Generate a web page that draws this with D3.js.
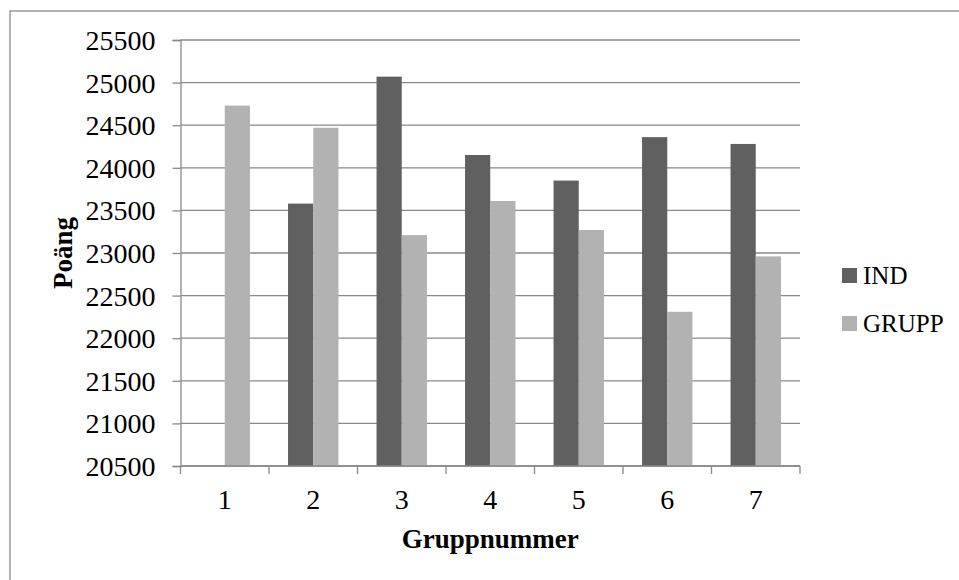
<!DOCTYPE html>
<html>
<head>
<meta charset="utf-8">
<script src="https://cdn.jsdelivr.net/npm/d3@7/dist/d3.min.js"></script>
<style>
  html, body { margin: 0; padding: 0; background: #fff; }
  svg { display: block; }
  text { font-family: "Liberation Serif", "DejaVu Serif", serif; fill: #000; }
</style>
</head>
<body>
<svg id="chart" width="959" height="580"></svg>
<script>
// Group numbers along the x axis
const groups = ["1", "2", "3", "4", "5", "6", "7"];
// Series names
const seriesNames = ["IND", "GRUPP"];
// Points per group (null = no result for that group)
const indValues = [null, 23580, 25070, 24150, 23850, 24360, 24280];
const gruppValues = [24730, 24470, 23210, 23610, 23270, 22310, 22960];
// Y axis ticks
const yTicks = [20500, 21000, 21500, 22000, 22500, 23000, 23500, 24000, 24500, 25000, 25500];

const colors = { IND: "#606060", GRUPP: "#b2b2b2" };
const gridColor = "#898989";

const svg = d3.select("#chart");
const W = 959, H = 580;
const plot = { left: 180.5, right: 800, top: 40, bottom: 466 };

// Outer frame of the chart area
svg.append("rect")
  .attr("x", 10).attr("y", 11)
  .attr("width", W + 20).attr("height", H + 20)
  .attr("fill", "none").attr("stroke", gridColor).attr("stroke-width", 1.3);

const y = d3.scaleLinear().domain([20500, 25500]).range([plot.bottom, plot.top]);
const x0 = d3.scaleBand().domain(groups).range([plot.left, plot.right]).padding(0);
const x1 = d3.scaleBand().domain(seriesNames).range([0, x0.bandwidth()])
  .paddingInner(0).paddingOuter(0.755);

// Horizontal gridlines
svg.append("g")
  .selectAll("line")
  .data(yTicks)
  .join("line")
  .attr("x1", plot.left).attr("x2", plot.right)
  .attr("y1", d => y(d)).attr("y2", d => y(d))
  .attr("stroke", gridColor).attr("stroke-width", 1.3);

// Bars
const rows = groups.map((g, i) => ({ group: g, IND: indValues[i], GRUPP: gruppValues[i] }));
const gGroups = svg.append("g")
  .selectAll("g")
  .data(rows)
  .join("g")
  .attr("transform", d => `translate(${x0(d.group)},0)`);

gGroups.selectAll("rect")
  .data(d => seriesNames.filter(s => d[s] != null).map(s => ({ key: s, value: d[s] })))
  .join("rect")
  .attr("x", d => x1(d.key))
  .attr("width", x1.bandwidth())
  .attr("y", d => y(d.value))
  .attr("height", d => y(20500) - y(d.value))
  .attr("fill", d => colors[d.key]);

// Y axis
const yAxis = d3.axisLeft(y).tickValues(yTicks).tickSize(8).tickPadding(17)
  .tickFormat(d3.format("d"));
const gy = svg.append("g").attr("transform", `translate(${plot.left},0)`).call(yAxis);
gy.select(".domain").attr("stroke", gridColor).attr("stroke-width", 1.3);
gy.selectAll(".tick line").attr("stroke", gridColor).attr("stroke-width", 1.3);
gy.selectAll(".tick text")
  .attr("font-family", "'Liberation Serif', serif")
  .attr("font-size", 28).attr("dy", "0.34em");

// X axis: ticks at the group boundaries, labels in the band centres
const boundaries = groups.map(g => x0(g)).concat([plot.right]);
const gx = svg.append("g");
gx.append("line")
  .attr("x1", plot.left).attr("x2", plot.right)
  .attr("y1", plot.bottom).attr("y2", plot.bottom)
  .attr("stroke", gridColor).attr("stroke-width", 1.3);
gx.selectAll("line.tk")
  .data(boundaries)
  .join("line")
  .attr("class", "tk")
  .attr("x1", d => d).attr("x2", d => d)
  .attr("y1", plot.bottom).attr("y2", plot.bottom + 8)
  .attr("stroke", gridColor).attr("stroke-width", 1.3);
gx.selectAll("text")
  .data(groups)
  .join("text")
  .attr("x", d => x0(d) + x0.bandwidth() / 2)
  .attr("y", 509)
  .attr("text-anchor", "middle")
  .attr("font-size", 28)
  .text(d => d);

// Axis titles
svg.append("text")
  .attr("x", (plot.left + plot.right) / 2).attr("y", 548)
  .attr("text-anchor", "middle")
  .attr("font-size", 27).attr("font-weight", "bold")
  .text("Gruppnummer");

svg.append("text")
  .attr("transform", `translate(72,${(plot.top + plot.bottom) / 2}) rotate(-90)`)
  .attr("text-anchor", "middle")
  .attr("font-size", 27).attr("font-weight", "bold")
  .text("Poäng");

// Legend
const legend = svg.append("g");
const legendY = [268, 316];
seriesNames.forEach((s, i) => {
  legend.append("rect")
    .attr("x", 842).attr("y", legendY[i])
    .attr("width", 15).attr("height", 15)
    .attr("fill", colors[s]);
  legend.append("text")
    .attr("x", 863).attr("y", legendY[i] + 16)
    .attr("font-size", 25)
    .text(s);
});
</script>
</body>
</html>
